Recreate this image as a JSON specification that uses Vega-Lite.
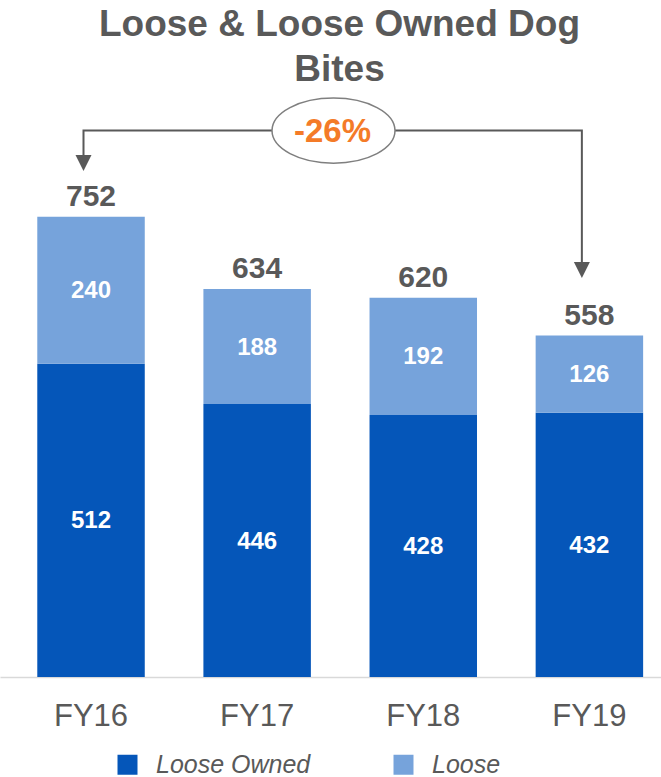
{
  "$schema": "https://vega.github.io/schema/vega-lite/v6.json",
  "width": 661,
  "height": 577,
  "autosize": {"type": "none"},
  "padding": {"top": 100, "left": 0, "right": 0, "bottom": 100},
  "background": "white",
  "title": {
    "text": ["Loose & Loose Owned Dog", "Bites"],
    "font": "Liberation Sans",
    "fontSize": 37,
    "lineHeight": 45,
    "fontWeight": "bold",
    "color": "#595959",
    "anchor": "middle",
    "offset": 6,
    "dx": 9
  },
  "config": {
    "view": {"stroke": null},
    "axisY": {"disable": true},
    "axisX": {
      "domainColor": "#D9D9D9",
      "domainWidth": 1.5,
      "ticks": false,
      "tickSize": 0,
      "labelFont": "Liberation Sans",
      "labelFontSize": 31,
      "labelColor": "#595959",
      "labelPadding": 24,
      "labelAngle": 0,
      "grid": false
    }
  },
  "layer": [
    {
      "data": {
        "values": [
          {"year": "FY16", "type": "Loose Owned", "value": 512, "order": 1},
          {"year": "FY16", "type": "Loose", "value": 240, "order": 2},
          {"year": "FY17", "type": "Loose Owned", "value": 446, "order": 1},
          {"year": "FY17", "type": "Loose", "value": 188, "order": 2},
          {"year": "FY18", "type": "Loose Owned", "value": 428, "order": 1},
          {"year": "FY18", "type": "Loose", "value": 192, "order": 2},
          {"year": "FY19", "type": "Loose Owned", "value": 432, "order": 1},
          {"year": "FY19", "type": "Loose", "value": 126, "order": 2}
        ]
      },
      "transform": [
        {"stack": "value", "groupby": ["year"], "sort": [{"field": "order", "order": "ascending"}], "as": ["v0", "v1"]},
        {"calculate": "(datum.v0 + datum.v1) / 2", "as": "mid"}
      ],
      "layer": [
        {
          "mark": {"type": "bar"},
          "encoding": {
            "x": {
              "field": "year",
              "type": "nominal",
              "title": null,
              "scale": {"paddingInner": 0.353, "paddingOuter": 0.166, "align": 0.676}
            },
            "y": {"field": "v0", "type": "quantitative", "scale": {"domain": [0, 943], "nice": false, "zero": true}},
            "y2": {"field": "v1"},
            "color": {
              "field": "type",
              "type": "nominal",
              "scale": {"domain": ["Loose Owned", "Loose"], "range": ["#0556B9", "#76A3DB"]},
              "legend": {
                "orient": "none",
                "legendX": 115,
                "legendY": 652,
                "direction": "horizontal",
                "title": null,
                "symbolType": "square",
                "symbolSize": 400,
                "symbolStrokeWidth": 0,
                "symbolOpacity": 1,
                "labelFont": "Liberation Sans",
                "labelFontSize": 25,
                "labelFontStyle": "italic",
                "labelColor": "#595959",
                "labelOffset": 16,
                "columnPadding": 80,
                "padding": 0
              }
            }
          }
        },
        {
          "mark": {"type": "text", "font": "Liberation Sans", "fontWeight": "bold", "fontSize": 24, "color": "white", "baseline": "middle", "dy": 1},
          "encoding": {
            "x": {"field": "year", "type": "nominal", "title": null},
            "y": {"field": "mid", "type": "quantitative"},
            "text": {"field": "value", "type": "quantitative"}
          }
        }
      ]
    },
    {
      "data": {
        "values": [
          {"year": "FY16", "total": 752},
          {"year": "FY17", "total": 634},
          {"year": "FY18", "total": 620},
          {"year": "FY19", "total": 558}
        ]
      },
      "mark": {"type": "text", "font": "Liberation Sans", "fontWeight": "bold", "fontSize": 30, "color": "#595959", "baseline": "alphabetic", "dy": -11},
      "encoding": {
        "x": {"field": "year", "type": "nominal", "title": null},
        "y": {"field": "total", "type": "quantitative"},
        "text": {"field": "total", "type": "quantitative"}
      }
    },
    {
      "data": {
        "values": [
          {"year": "FY16", "y": 840, "step": 1},
          {"year": "FY16", "y": 893, "step": 2},
          {"year": "FY19", "y": 893, "step": 3},
          {"year": "FY19", "y": 665, "step": 4}
        ]
      },
      "mark": {"type": "line", "color": "#595959", "strokeWidth": 2},
      "encoding": {
        "x": {"field": "year", "type": "nominal", "title": null, "bandPosition": 0.43},
        "y": {"field": "y", "type": "quantitative"},
        "order": {"field": "step", "type": "quantitative"}
      }
    },
    {
      "data": {
        "values": [
          {"year": "FY16", "y": 840},
          {"year": "FY19", "y": 665}
        ]
      },
      "mark": {"type": "point", "shape": "M -1 -1 L 1 -1 L 0 1 Z", "size": 256, "filled": true, "color": "#595959", "opacity": 1},
      "encoding": {
        "x": {"field": "year", "type": "nominal", "title": null, "bandPosition": 0.43},
        "y": {"field": "y", "type": "quantitative"}
      }
    },
    {
      "data": {"values": [{"label": "-26%", "y": 893}]},
      "layer": [
        {
          "mark": {
            "type": "point",
            "shape": "M -1 0 A 1 0.53 0 1 0 1 0 A 1 0.53 0 1 0 -1 0 Z",
            "size": 15129,
            "filled": true,
            "fill": "white",
            "stroke": "#7F7F7F",
            "strokeWidth": 1.5,
            "opacity": 1,
            "x": {"expr": "width / 2 + 3"}
          },
          "encoding": {"y": {"field": "y", "type": "quantitative"}}
        },
        {
          "mark": {
            "type": "text",
            "font": "Liberation Sans",
            "fontWeight": "bold",
            "fontSize": 33,
            "color": "#F47B28",
            "baseline": "middle",
            "dy": 1,
            "x": {"expr": "width / 2 + 2"}
          },
          "encoding": {
            "y": {"field": "y", "type": "quantitative"},
            "text": {"field": "label", "type": "nominal"}
          }
        }
      ]
    }
  ]
}
